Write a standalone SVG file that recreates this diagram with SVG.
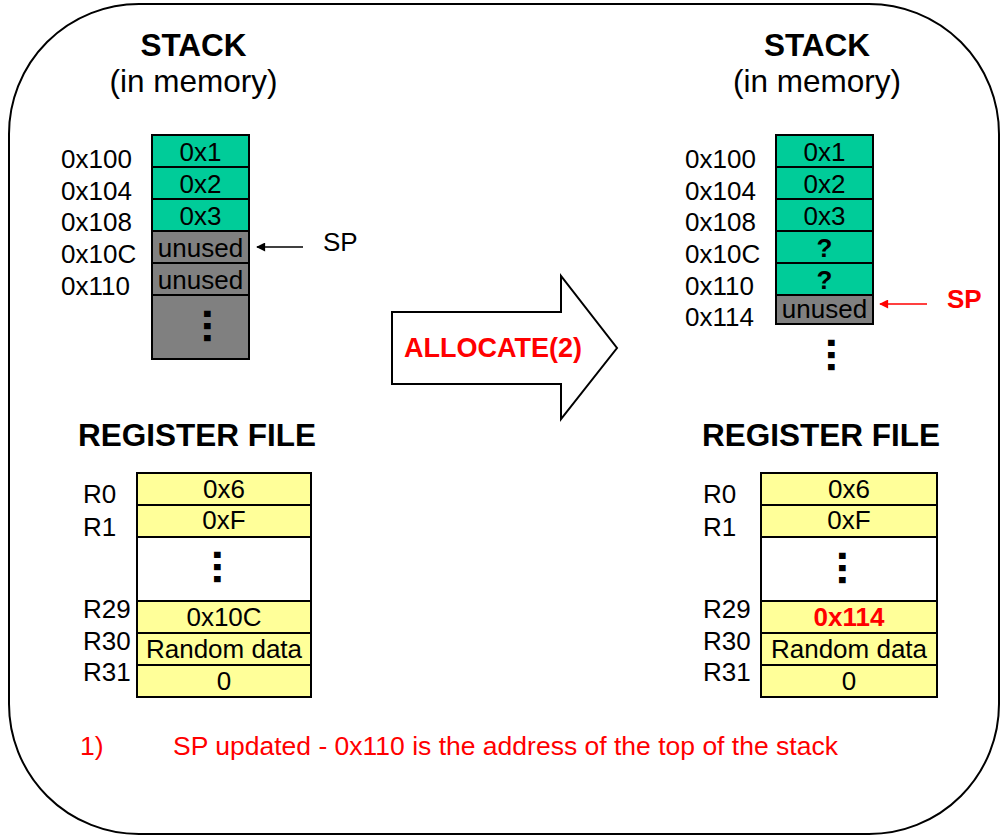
<svg xmlns="http://www.w3.org/2000/svg" width="1002" height="836" viewBox="0 0 1002 836">
<defs>
<style>
text{font-family:"Liberation Sans",Arial,sans-serif;font-size:26px;fill:#000}
.title{font-size:31.5px;font-weight:bold}
.sub{font-size:31.5px}
.c{text-anchor:middle}
.b{font-weight:bold}
.red{fill:#FF0000}
.note{font-size:26.5px}
.alloc{font-size:27px}
.dots{font-size:44px;font-weight:bold;text-anchor:middle}
.teal{fill:#00CC99;stroke:#000;stroke-width:2}
.gray{fill:#808080;stroke:#000;stroke-width:2}
.yel{fill:#FFFF99;stroke:#000;stroke-width:2}
.wht{fill:#FFFFFF;stroke:#000;stroke-width:2}
</style>
<marker id="ahB" viewBox="0 0 10 10" refX="9" refY="5" markerWidth="11" markerHeight="9" markerUnits="userSpaceOnUse" orient="auto"><path d="M0,0 L10,5 L0,10 z" fill="#000"/></marker>
<marker id="ahR" viewBox="0 0 10 10" refX="9" refY="5" markerWidth="11" markerHeight="9" markerUnits="userSpaceOnUse" orient="auto"><path d="M0,0 L10,5 L0,10 z" fill="#FF0000"/></marker>
</defs>
<rect width="1002" height="836" fill="#fff"/>
<rect id="frame" x="9" y="4" width="990" height="830" rx="130" ry="130" fill="#fff" stroke="#000" stroke-width="2"/>

<g id="left-stack">
<text class="title c" x="193.5" y="56">STACK</text>
<text class="sub c" x="193.5" y="92">(in memory)</text>
<rect class="teal" x="152" y="135" width="97" height="32"/>
<rect class="teal" x="152" y="167" width="97" height="32"/>
<rect class="teal" x="152" y="199" width="97" height="32"/>
<rect class="gray" x="152" y="231" width="97" height="32"/>
<rect class="gray" x="152" y="263" width="97" height="32"/>
<rect class="gray" x="152" y="295" width="97" height="64"/>
<text class="c" x="200.5" y="161">0x1</text>
<text class="c" x="200.5" y="193">0x2</text>
<text class="c" x="200.5" y="225">0x3</text>
<text class="c" x="200.5" y="257">unused</text>
<text class="c" x="200.5" y="289">unused</text>
<text class="dots" transform="translate(204,326) rotate(90)">...</text>
<text x="61" y="168">0x100</text>
<text x="61" y="200">0x104</text>
<text x="61" y="231">0x108</text>
<text x="61" y="263">0x10C</text>
<text x="61" y="295">0x110</text>
<text x="323" y="251">SP</text>
</g>

<g id="right-stack">
<text class="title c" x="817" y="56">STACK</text>
<text class="sub c" x="817" y="92">(in memory)</text>
<rect class="teal" x="776" y="135" width="97" height="32"/>
<rect class="teal" x="776" y="167" width="97" height="32"/>
<rect class="teal" x="776" y="199" width="97" height="32"/>
<rect class="teal" x="776" y="231" width="97" height="32"/>
<rect class="teal" x="776" y="263" width="97" height="32"/>
<rect class="gray" x="776" y="295" width="97" height="29"/>
<text class="c" x="824.5" y="161">0x1</text>
<text class="c" x="824.5" y="193">0x2</text>
<text class="c" x="824.5" y="225">0x3</text>
<text class="c b" x="824.5" y="257">?</text>
<text class="c b" x="824.5" y="289">?</text>
<text class="c" x="824.5" y="318">unused</text>
<text class="dots" transform="translate(828,355) rotate(90)">...</text>
<text x="685" y="168">0x100</text>
<text x="685" y="200">0x104</text>
<text x="685" y="231">0x108</text>
<text x="685" y="263">0x10C</text>
<text x="685" y="295">0x110</text>
<text x="685" y="326">0x114</text>
<text class="b red" x="947" y="308">SP</text>
</g>

<g id="allocate-arrow">
<path d="M392,312 L561,312 L561,276 L617,348 L561,419 L561,384 L392,384 Z" fill="#fff" stroke="#000" stroke-width="2" stroke-linejoin="miter"/>
<text class="c b red alloc" x="493" y="357">ALLOCATE(2)</text>
</g>

<g id="left-regfile">
<text class="title" x="78" y="446">REGISTER FILE</text>
<rect class="yel" x="137" y="473" width="174" height="32"/>
<rect class="yel" x="137" y="505" width="174" height="32"/>
<rect class="wht" x="137" y="537" width="174" height="64"/>
<rect class="yel" x="137" y="601" width="174" height="32"/>
<rect class="yel" x="137" y="633" width="174" height="32"/>
<rect class="yel" x="137" y="665" width="174" height="32"/>
<text class="c" x="224" y="498">0x6</text>
<text class="c" x="224" y="529">0xF</text>
<text class="dots" transform="translate(214,567) rotate(90)">...</text>
<text class="c" x="224" y="626">0x10C</text>
<text class="c" x="224" y="658">Random data</text>
<text class="c" x="224" y="690">0</text>
<text x="83" y="503">R0</text>
<text x="83" y="536">R1</text>
<text x="83" y="618">R29</text>
<text x="83" y="650">R30</text>
<text x="83" y="681">R31</text>
</g>

<g id="right-regfile">
<text class="title" x="702" y="446">REGISTER FILE</text>
<rect class="yel" x="761" y="473" width="176" height="32"/>
<rect class="yel" x="761" y="505" width="176" height="32"/>
<rect class="wht" x="761" y="537" width="176" height="64"/>
<rect class="yel" x="761" y="601" width="176" height="32"/>
<rect class="yel" x="761" y="633" width="176" height="32"/>
<rect class="yel" x="761" y="665" width="176" height="32"/>
<text class="c" x="849" y="498">0x6</text>
<text class="c" x="849" y="529">0xF</text>
<text class="dots" transform="translate(839,568) rotate(90)">...</text>
<text class="c b red" x="849" y="626">0x114</text>
<text class="c" x="849" y="658">Random data</text>
<text class="c" x="849" y="690">0</text>
<text x="703" y="503">R0</text>
<text x="703" y="536">R1</text>
<text x="703" y="618">R29</text>
<text x="703" y="650">R30</text>
<text x="703" y="681">R31</text>
</g>

<g id="note">
<text class="red note" x="80" y="755">1)</text>
<text class="red note" x="173" y="755">SP updated - 0x110 is the address of the top of the stack</text>
</g>

<g id="connectors">
<line x1="303" y1="247" x2="257" y2="247" stroke="#000" stroke-width="1.5" marker-end="url(#ahB)"/>
<line x1="927" y1="304" x2="880" y2="304" stroke="#FF0000" stroke-width="1.5" marker-end="url(#ahR)"/>
</g>
</svg>
